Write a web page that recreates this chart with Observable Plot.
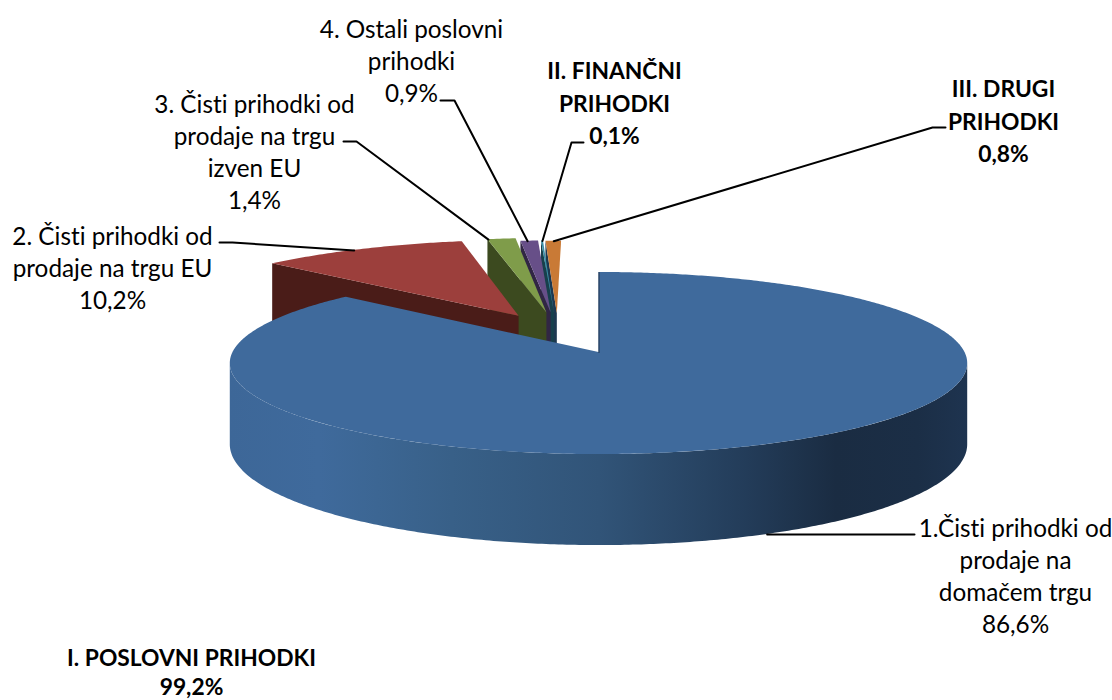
<!DOCTYPE html>
<html>
<head>
<meta charset="utf-8">
<style>html,body{margin:0;padding:0;background:#fff}svg{display:block}svg text{font-variant-ligatures:none;font-feature-settings:"liga" 0,"dlig" 0,"clig" 0}</style>
<script src="https://cdn.jsdelivr.net/npm/d3@7"></script>
<script src="https://cdn.jsdelivr.net/npm/@observablehq/plot@0.6"></script>
</head>
<body>
<div id="chart"></div>
<script>
// Data
const categories = ["1.Čisti prihodki od\nprodaje na\ndomačem trgu","2. Čisti prihodki od\nprodaje na trgu EU","3. Čisti prihodki od\nprodaje na trgu\nizven EU","4. Ostali poslovni\nprihodki","II. FINANČNI\nPRIHODKI","III. DRUGI\nPRIHODKI"];
const values = [86.6, 10.2, 1.4, 0.9, 0.1, 0.8];
const valueLabels = ["86,6%","10,2%","1,4%","0,9%","0,1%","0,8%"];
const groupLabel = "I. POSLOVNI PRIHODKI";
const groupValue = "99,2%";

// Styling and layout
const topColors  = ["#3f6a9c","#9c3f3c","#7f9c4a","#674f88","#3a8ea6","#c97a36"];
const wallColors = ["#1c2f47","#4a1c18","#3c4a1f","#312644","#17404c","#1d3850"];
const bold = [false,false,false,false,true,true];
// exploded offset of each slice's apex, in pie-plane units
const explodeX = [0,-84,-55,-50.5,-47,-44];
const explodeZ = [0,155,170,170,170,168];
const radiusK  = [1,1.05,1.04,1,1,1];
// label centres, elbow of the leader, end of the leader (fraction of rim arc)
const labelPos = [[1015,574],[112,266],[254,150],[411,59],[614,101],[1003,119]];
const leaderFrom = [[914,534],[219,242],[343,141],[440,100],[583,142],[945,127]];
const leaderElbow = [[895,534],[232,242],[356,141],[454,100],[571,142],[932,127]];
const leaderRim = [0.5,0.46,0.02,0.38,0.5,0.5];

const cx=598.5, cy=352, R=366, K=89.7, P=0.121, H=80;
function proj(X,Z,drop=0){
  const s=1/(1+P*Z/R);
  return {x:cx+X*s, y:cy-K*(Z/R)*s+drop*s};
}
const total=d3.sum(values);
let acc=0;
const slices=values.map((v,i)=>{
  const a0=acc/total*2*Math.PI; acc+=v; const a1=acc/total*2*Math.PI;
  return {i,a0,a1,ox:explodeX[i],oz:explodeZ[i],r:R*radiusK[i]};
});
const rimPoint=(s,a,drop=0)=>proj(s.ox+s.r*Math.sin(a),s.oz+s.r*Math.cos(a),drop);
const apex=(s,drop=0)=>proj(s.ox,s.oz,drop);
function arc(s,a0,a1,drop=0){
  const n=Math.max(2,Math.ceil(Math.abs(a1-a0)/0.01));
  return d3.range(n+1).map(k=>rimPoint(s,a0+(a1-a0)*k/n,drop));
}
const rows=[];
function poly(id,pts,color){
  const f=pts[0];
  pts.forEach(p=>rows.push({id,x:p.x,y:p.y,x0:f.x,y0:f.y,color}));
}
// far slices first, the large blue slice last
[5,4,3,2,1].forEach(i=>{
  const s=slices[i];
  const a=s.a0;
  poly("w"+i,[rimPoint(s,a),apex(s),apex(s,H),rimPoint(s,a,H)],wallColors[i]);
  poly("t"+i,[apex(s),...arc(s,s.a0,s.a1)],topColors[i]);
});
const blue=slices[0];
const wallArc=[...arc(blue,97*Math.PI/180,263.2*Math.PI/180),...arc(blue,263.2*Math.PI/180,97*Math.PI/180,H)];
const blueTop=[];
(function(){
  const f=apex(blue);
  [f,...arc(blue,blue.a0,blue.a1)].forEach(p=>blueTop.push({id:"b",x:p.x,y:p.y,x0:f.x,y0:f.y}));
})();
const wallRows=wallArc.map(p=>({x:p.x,y:p.y,x0:wallArc[0].x,y0:wallArc[0].y}));

const leaders=[];
slices.forEach((s,i)=>{
  const a=s.a0+(s.a1-s.a0)*leaderRim[i];
  const e = i===0 ? rimPoint(s,a,H) : rimPoint(s,a);
  [leaderFrom[i],leaderElbow[i],[e.x,e.y]].forEach(p=>leaders.push({i,x:p[0],y:p[1]}));
});
const labels=categories.map((c,i)=>({t:c+"\n"+valueLabels[i],x:labelPos[i][0],y:labelPos[i][1],b:bold[i]}));
const groupLabels=[{t:groupLabel+"\n"+groupValue,x:191,y:671}];

const gradient=()=>{
  const d=d3.create("svg:defs");
  const g=d.append("linearGradient").attr("id","wall").attr("gradientUnits","userSpaceOnUse")
    .attr("x1",230).attr("x2",969).attr("y1",0).attr("y2",0);
  [[0,"#3d6798"],[0.12,"#3f6a9c"],[0.2,"#3c6693"],[0.3,"#386088"],[0.5,"#315478"],[0.7,"#233c59"],[0.82,"#1a2c42"],[0.93,"#1b2e46"],[1,"#1e3450"]]
    .forEach(([o,c])=>g.append("stop").attr("offset",o).attr("stop-color",c));
  return d.node();
};

const chart=Plot.plot({
  width:1112,height:700,margin:0,
  x:{domain:[0,1112],range:[0,1112],axis:null},
  y:{domain:[0,700],range:[0,700],axis:null},
  color:{type:"identity"},
  style:{background:"#fff",fontFamily:"Lato, sans-serif"},
  marks:[
    gradient,
    Plot.area(rows,{x1:"x",y1:"y",x2:"x0",y2:"y0",z:"id",fill:"color",curve:"linear"}),
    Plot.area(wallRows,{x1:"x",y1:"y",x2:"x0",y2:"y0",fill:"url(#wall)",curve:"linear"}),
    Plot.area(blueTop,{x1:"x",y1:"y",x2:"x0",y2:"y0",fill:topColors[0],curve:"linear"}),
    Plot.line([rimPoint(blue,0),apex(blue)],{x:"x",y:"y",stroke:wallColors[0],strokeWidth:1.2,strokeOpacity:0.8}),
    Plot.line(leaders,{x:"x",y:"y",z:"i",stroke:"#000",strokeWidth:2,curve:"linear"}),
    Plot.text(labels.filter(d=>!d.b),{x:"x",y:"y",text:"t",fontSize:24.3,lineHeight:1.325,fill:"#000",lineAnchor:"middle"}),
    Plot.text(labels.filter(d=>d.b),{x:"x",y:"y",text:"t",fontSize:22.8,lineHeight:1.42,fontWeight:700,fill:"#000",lineAnchor:"middle"}),
    Plot.text(groupLabels,{x:"x",y:"y",text:"t",fontSize:22.8,lineHeight:1.24,fontWeight:700,fill:"#000",lineAnchor:"middle"})
  ]
});
document.getElementById("chart").append(chart);
</script>
</body>
</html>
